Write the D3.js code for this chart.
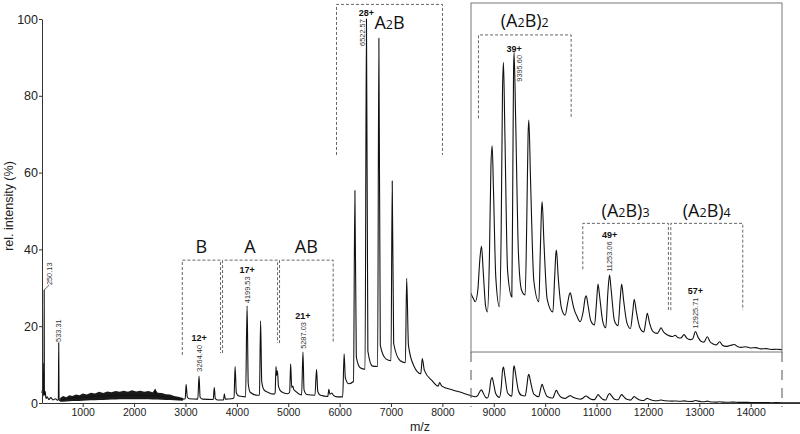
<!DOCTYPE html>
<html>
<head>
<meta charset="utf-8">
<script src="https://cdn.jsdelivr.net/npm/d3@7"></script>
<style>
body { margin: 0; background: #fff; }
svg { display: block; }
</style>
</head>
<body>
<svg id="chart" width="800" height="434"></svg>
<script>
// spectrum vertices: [m/z, rel. intensity %]
var spectrum = [
    [208, 2.6], [218, 3.6], [228, 1.8], [236, 2.4], [240, 10.4], [244, 2.2], [247, 3.0], [250.13, 29.4], [254, 3.5], [262, 2.0], [272, 3.0], [285, 1.2],
    [310, 1.6], [340, 0.9], [380, 1.4], [420, 0.8], [470, 1.1], [515, 0.7], [526, 1.0], [533.31, 15.7], [540, 1.2], [556, 0.6], [600, 0.9],
    [700, 1.1], [800, 1.3], [1000, 1.5], [1250, 1.7], [1500, 1.9], [1750, 2.0], [2000, 2.1], [2250, 2.0], [2395, 1.9], [2410, 3.6], [2425, 1.9],
    [2600, 1.6], [2800, 1.2], [2960, 1.0], [2995, 1.1], [3013, 4.9], [3035, 1.6], [3070, 1.1], [3240, 1.0], [3264.40, 7.0], [3285, 1.5], [3330, 1.0],
    [3540, 0.9], [3561, 4.0], [3580, 1.2], [3620, 0.8], [3740, 0.8], [3757, 2.4], [3775, 1.0], [3900, 1.1], [3945, 1.4], [3966, 9.5], [3990, 2.6],
    [4040, 1.8], [4170, 1.6], [4199.53, 25.3], [4222, 5.0], [4260, 2.8], [4400, 2.0], [4440, 2.1], [4462, 21.4], [4485, 5.5], [4530, 3.4], [4600, 2.8],
    [4720, 2.3], [4745, 2.6], [4762, 9.5], [4775, 7.2], [4790, 8.4], [4810, 4.4], [4860, 3.0], [4990, 2.4], [5028, 2.8], [5047, 10.2], [5068, 4.0],
    [5090, 4.4], [5105, 3.6], [5150, 3.0], [5260, 2.1], [5287.03, 13.3], [5308, 3.4], [5360, 2.2], [5520, 2.0], [5551, 8.8], [5575, 3.0], [5630, 2.0],
    [5770, 1.7], [5791, 3.6], [5810, 2.3], [5850, 2.6], [5880, 2.0], [5950, 1.6], [6060, 1.6], [6088, 12.8], [6112, 6.5], [6180, 5.0], [6270, 5.6],
    [6297.6, 55.3], [6325, 12.0], [6400, 9.2], [6495, 8.8], [6522.57, 100], [6550, 13.5], [6640, 9.6], [6740, 9.5], [6764, 95.0], [6792, 15.0],
    [6900, 11.5], [7000, 11.0], [7024, 57.8], [7052, 15.5], [7180, 11.0], [7280, 10.5], [7305, 32.5], [7340, 15.0], [7450, 9.5], [7580, 7.6],
    [7609, 11.6], [7650, 8.5], [7800, 5.8], [7920, 4.4], [7945, 5.3], [7990, 4.4], [8200, 3.4], [8400, 2.6],
    [8500, 2.16], [8540, 1.95], [8580, 1.8], [8610, 1.7], [8640, 1.62], [8690, 2.0], [8730, 3.0], [8761, 3.42], [8795, 2.6], [8840, 1.5], [8877, 1.29],
    [8915, 3.0], [8945, 6.0], [8969, 6.65], [8995, 5.2], [9040, 2.4], [9111, 1.46], [9145, 4.0], [9170, 8.4], [9189, 9.35], [9215, 7.2], [9270, 2.6],
    [9352, 1.78], [9372, 6.0], [9385, 9.0], [9395.60, 9.67], [9425, 7.6], [9480, 3.2], [9540, 2.0], [9611, 1.84], [9645, 4.5], [9668, 7.0],
    [9683, 7.48], [9715, 5.6], [9780, 2.3], [9877, 1.62], [9905, 3.2], [9930, 4.6], [9942, 4.85], [9975, 3.6], [10040, 1.7], [10150, 1.29],
    [10185, 2.4], [10210, 3.2], [10220, 3.29], [10255, 2.4], [10320, 1.4], [10389, 1.19], [10440, 1.6], [10470, 1.85], [10490, 1.91], [10520, 1.7],
    [10560, 1.4], [10620, 1.15], [10680, 0.98], [10740, 1.3], [10780, 1.75], [10800, 1.81], [10835, 1.5], [10890, 1.0], [10960, 0.87],
    [11000, 1.6], [11029, 2.19], [11060, 1.8], [11120, 1.0], [11180, 0.78], [11220, 1.9], [11253.06, 2.48], [11285, 2.0], [11350, 1.0],
    [11420, 0.85], [11460, 1.7], [11489, 2.19], [11525, 1.7], [11590, 0.95], [11660, 0.76], [11705, 1.3], [11733, 1.70], [11775, 1.3],
    [11840, 0.8], [11920, 0.65], [11960, 1.0], [11988, 1.25], [12030, 0.95], [12100, 0.66], [12180, 0.6], [12225, 0.7], [12254, 0.78],
    [12300, 0.66], [12350, 0.58], [12420, 0.52], [12480, 0.5], [12530, 0.54], [12580, 0.47], [12640, 0.45], [12702, 0.56], [12760, 0.44],
    [12820, 0.4], [12870, 0.42], [12925.71, 0.66], [12975, 0.48], [13040, 0.34], [13090, 0.32], [13156, 0.49], [13210, 0.33], [13270, 0.26],
    [13330, 0.23], [13395, 0.33], [13450, 0.22], [13520, 0.18], [13600, 0.21], [13680, 0.24], [13750, 0.17], [13820, 0.15], [13900, 0.17],
    [14000, 0.13], [14100, 0.14], [14200, 0.1], [14300, 0.11], [14400, 0.08], [14500, 0.09], [14700, 0.06], [14960, 0.05]
];

// noisy band at low m/z (lower / upper envelope)
var noiseMz   = [560, 620, 680, 740, 800, 870, 940, 1000, 1080, 1160, 1240, 1320, 1400, 1480, 1560, 1640, 1720, 1800, 1880, 1960,
                 2040, 2120, 2200, 2280, 2360, 2410, 2460, 2540, 2620, 2700, 2780, 2860, 2950];
var noiseLow  = [0.3, 0.35, 0.4, 0.45, 0.5, 0.5, 0.55, 0.6, 0.65, 0.7, 0.7, 0.75, 0.8, 0.85, 0.9, 0.9, 0.95, 1.0, 1.0, 1.0,
                 1.0, 1.0, 1.0, 0.95, 0.9, 0.9, 0.9, 0.85, 0.8, 0.75, 0.7, 0.65, 0.6];
var noiseHigh = [1.3, 1.8, 1.5, 2.0, 1.8, 2.2, 2.0, 2.5, 2.2, 2.7, 2.5, 2.9, 2.6, 3.0, 2.8, 3.1, 2.9, 3.2, 2.9, 3.3,
                 3.0, 3.2, 2.9, 3.1, 2.8, 3.6, 2.7, 2.6, 2.3, 2.2, 1.8, 1.6, 1.3];

var xTicks = [1000, 2000, 3000, 4000, 5000, 6000, 7000, 8000, 9000, 10000, 11000, 12000, 13000, 14000];
var yTicks = [0, 20, 40, 60, 80, 100];

// peak annotations (m/z, charge, where the rotated label starts)
var mainPeakMz     = [250.13, 533.31, 3264.40, 4199.53, 5287.03, 6522.57];
var mainPeakText   = ['250.13', '533.31', '3264.40', '4199.53', '5287.03', '6522.57'];
var mainCharge     = ['', '', '12+', '17+', '21+', '28+'];
var mainLabelBase  = [30.7, 15.9, 8.15, 26.0, 14.1, 93.0];
var mainLabelDx    = [5, 0, 0, 0, 0, -4.5];

var insetPeakMz    = [9395.60, 11253.06, 12925.71];
var insetPeakText  = ['9395.60', '11253.06', '12925.71'];
var insetCharge    = ['39+', '49+', '57+'];
var insetLabelBase = [8.72, 2.59, 0.76];
var insetLabelDx   = [5, 0, 0];

// species brackets: [m/z left, m/z right, top, left leg end, right leg end], label baseline
var mainGroups     = ['B', 'A', 'AB', 'A2B'];
var mainBrackets   = [[2938, 3683, 37.2, 12.5, 13.0], [3722, 4792, 37.2, 13.0, 15.6], [4831, 5875, 37.2, 15.6, 15.6], [5940, 8002, 103.8, 64.6, 64.6]];
var mainGroupBase  = [39.1, 39.1, 39.1, 97.3];
var insetGroups    = ['(A2B)2', '(A2B)3', '(A2B)4'];
var insetBrackets  = [[8702, 10506, 10.23, 7.54, 7.54], [10733, 12399, 4.15, 2.67, 1.30], [12446, 13846, 4.15, 1.35, 1.35]];
var insetGroupBase = [10.49, 4.36, 4.36];

var axisFont = "'Liberation Sans', Arial, sans-serif";
var labelFont = "'Open Sans', 'Noto Sans', sans-serif";

var svg = d3.select('#chart');

var x = d3.scaleLinear().domain([208, 14960]).range([42, 800]);
var y = d3.scaleLinear().domain([0, 100]).range([403, 19]);

// inset box (same m/z scale, magnified intensity)
var insetLeft = 471, insetRight = 782, insetTop = 3, insetBottom = 352;
var yIn = d3.scaleLinear().domain([0, 11.26]).range([insetBottom, insetTop]);

// noise band
svg.append('path')
    .datum(noiseMz)
    .attr('d', d3.area()
        .x(function (d) { return x(d); })
        .y0(function (d, i) { return y(noiseLow[i]); })
        .y1(function (d, i) { return y(noiseHigh[i]); }))
    .attr('fill', '#1a1a1a');

// main trace
var lineMain = d3.line()
    .x(function (d) { return x(d[0]); })
    .y(function (d) { return y(d[1]); })
    .curve(d3.curveMonotoneX);

svg.append('path')
    .datum(spectrum)
    .attr('d', lineMain)
    .attr('fill', 'none')
    .attr('stroke', '#111')
    .attr('stroke-width', 1.1);

// axes
var gx = svg.append('g').attr('transform', 'translate(0,403)');
gx.call(d3.axisBottom(x).tickValues(d3.range(400, 14960, 200).filter(function (v) { return v % 1000 != 0; }))
    .tickSize(2).tickSizeOuter(0).tickFormat(''));
gx.call(d3.axisBottom(x).tickValues(xTicks).tickSize(4).tickSizeOuter(0).tickPadding(2).tickFormat(d3.format('d')));
gx.selectAll('text').attr('font-family', axisFont).attr('font-size', 10.5).attr('fill', '#222');
gx.selectAll('path,line').attr('stroke', '#333');

var gy = svg.append('g').attr('transform', 'translate(42,0)');
gy.call(d3.axisLeft(y).tickValues([10, 30, 50, 70, 90]).tickSize(2).tickSizeOuter(0).tickFormat(''));
gy.call(d3.axisLeft(y).tickValues(yTicks).tickSize(3).tickSizeOuter(0).tickPadding(1));
gy.selectAll('text').attr('font-family', axisFont).attr('font-size', 12.5).attr('fill', '#222');
gy.selectAll('path,line').attr('stroke', '#333');

svg.append('text')
    .attr('transform', 'translate(13,206) rotate(-90)')
    .attr('text-anchor', 'middle')
    .attr('font-family', axisFont).attr('font-size', 12.5).attr('fill', '#222')
    .text('rel. intensity (%)');

svg.append('text')
    .attr('x', 420).attr('y', 431)
    .attr('text-anchor', 'middle')
    .attr('font-family', axisFont).attr('font-size', 12.5).attr('fill', '#222')
    .text('m/z');

// inset
svg.append('clipPath').attr('id', 'insetClip')
    .append('rect')
    .attr('x', insetLeft).attr('y', insetTop)
    .attr('width', insetRight - insetLeft).attr('height', insetBottom - insetTop);

var gIn = svg.append('g');
gIn.append('path')
    .datum(spectrum.filter(function (d) { return d[0] >= 8300; }))
    .attr('clip-path', 'url(#insetClip)')
    .attr('d', d3.line()
        .x(function (d) { return x(d[0]); })
        .y(function (d) { return yIn(d[1]); })
        .curve(d3.curveMonotoneX))
    .attr('fill', 'none')
    .attr('stroke', '#111')
    .attr('stroke-width', 1.1);

gIn.append('rect')
    .attr('x', insetLeft).attr('y', insetTop)
    .attr('width', insetRight - insetLeft).attr('height', insetBottom - insetTop)
    .attr('fill', 'none').attr('stroke', '#777').attr('stroke-width', 1);

[insetLeft, insetRight].forEach(function (px) {
    svg.append('line')
        .attr('x1', px).attr('x2', px)
        .attr('y1', insetBottom).attr('y2', 407)
        .attr('stroke', '#555').attr('stroke-width', 1)
        .attr('stroke-dasharray', '10,8');
});

// brackets + species labels
function drawGroups(names, brackets, bases, ys) {
    for (var i in names) {
        var b = brackets[i];
        svg.append('path')
            .attr('d', 'M' + x(b[0]) + ',' + ys(b[3]) + 'V' + ys(b[2]) + 'H' + x(b[1]) + 'V' + ys(b[4]))
            .attr('fill', 'none')
            .attr('stroke', '#555')
            .attr('stroke-width', 0.9)
            .attr('stroke-dasharray', '3,2');
        var t = svg.append('text')
            .attr('x', x((b[0] + b[1]) / 2))
            .attr('y', ys(bases[i]))
            .attr('text-anchor', 'middle')
            .attr('font-family', labelFont)
            .attr('font-size', 18)
            .attr('fill', '#111');
        // digits are subscripts, drawn smaller on the baseline
        names[i].split('').forEach(function (ch) {
            t.append('tspan')
                .attr('font-size', /\d/.test(ch) ? 12.5 : 18)
                .text(ch);
        });
    }
}
drawGroups(mainGroups, mainBrackets, mainGroupBase, y);
drawGroups(insetGroups, insetBrackets, insetGroupBase, yIn);

// peak labels
function drawPeakLabels(mzs, texts, charges, bases, dxs, ys) {
    for (var i in mzs) {
        var px = x(mzs[i]) + dxs[i];
        var py = ys(bases[i]);
        var lbl = svg.append('text')
            .attr('transform', 'translate(' + px + ',' + py + ') rotate(-90)')
            .attr('dy', '0.35em')
            .attr('font-family', axisFont)
            .attr('font-size', 7.4)
            .attr('fill', '#333')
            .text(texts[i]);
        var len = lbl.node().getComputedTextLength();
        if (charges[i] != '') {
            svg.append('text')
                .attr('x', x(mzs[i]))
                .attr('y', py - len - 3.5)
                .attr('text-anchor', 'middle')
                .attr('font-family', axisFont)
                .attr('font-size', 9)
                .attr('font-weight', 'bold')
                .attr('fill', '#111')
                .text(charges[i]);
        }
    }
}
drawPeakLabels(mainPeakMz, mainPeakText, mainCharge, mainLabelBase, mainLabelDx, y);
drawPeakLabels(insetPeakMz, insetPeakText, insetCharge, insetLabelBase, insetLabelDx, yIn);

// lead line for the 250.13 label
svg.append('line')
    .attr('x1', x(mainPeakMz[0])).attr('y1', y(29.4))
    .attr('x2', x(mainPeakMz[0]) + mainLabelDx[0]).attr('y2', y(mainLabelBase[0]))
    .attr('stroke', '#333').attr('stroke-width', 0.8);
</script>
</body>
</html>
